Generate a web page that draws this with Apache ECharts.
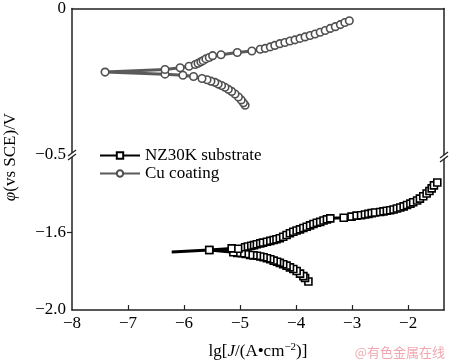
<!DOCTYPE html>
<html>
<head>
<meta charset="utf-8">
<script src="https://cdn.jsdelivr.net/npm/echarts@6/dist/echarts.min.js"></script>
<style>html,body{margin:0;padding:0;background:#fff}#c{width:450px;height:362px}</style>
</head>
<body>
<div id="c"></div>
<script>
// ---- data ----
var seriesNames = ['NZ30K substrate', 'Cu coating'];
var xTickLabels = [-8, -7, -6, -5, -4, -3, -2];
var yTopLabels = [0, -0.5];
var yBottomLabels = [-2.0, -1.6];

// Cu coating: cathodic branch (from its end) -> corrosion point -> anodic branch
var cuLgJ = [-4.91, -4.94, -4.98, -5.03, -5.09, -5.15, -5.21, -5.27, -5.33, -5.39, -5.45, -5.52, -5.59, -5.68, -5.83, -6.02, -6.34,
  -7.41,
  -6.34, -6.07, -5.91, -5.80, -5.75, -5.70, -5.66, -5.61, -5.55, -5.49, -5.34, -5.05, -4.79, -4.64, -4.55, -4.46, -4.38, -4.29, -4.20, -4.11, -4.02, -3.93, -3.84, -3.75, -3.66, -3.57, -3.48, -3.39, -3.30, -3.21, -3.13, -3.05];
var cuPhi = [-0.330, -0.322, -0.312, -0.302, -0.292, -0.283, -0.276, -0.269, -0.263, -0.258, -0.252, -0.248, -0.243, -0.239, -0.232, -0.228, -0.224,
  -0.217,
  -0.208, -0.202, -0.197, -0.191, -0.187, -0.182, -0.178, -0.172, -0.167, -0.161, -0.158, -0.150, -0.145, -0.139, -0.136, -0.131, -0.126, -0.120, -0.116, -0.111, -0.107, -0.102, -0.097, -0.092, -0.087, -0.081, -0.075, -0.068, -0.062, -0.055, -0.048, -0.042];

// NZ30K substrate
var nzLgJ = [-3.78, -3.84, -3.87, -3.93, -3.99, -4.05, -4.11, -4.17, -4.23, -4.29, -4.34, -4.40, -4.46, -4.52, -4.58, -4.64, -4.70, -4.76, -4.82, -4.90, -4.97, -5.05, -5.12, -5.55,
  -6.22,
  -5.55, -5.15, -5.03, -4.91, -4.86, -4.80, -4.75, -4.70, -4.64, -4.59, -4.52, -4.46, -4.40, -4.35, -4.29, -4.23, -4.17, -4.11, -4.05, -3.99, -3.93, -3.87, -3.81, -3.75, -3.69, -3.63, -3.57, -3.51, -3.45, -3.39, -3.15, -3.01, -2.92, -2.84, -2.77, -2.71, -2.65, -2.59, -2.50, -2.44, -2.38, -2.32, -2.26, -2.20, -2.14, -2.08, -2.02, -1.96, -1.91, -1.84, -1.79, -1.73, -1.67, -1.62, -1.58, -1.54, -1.48];
var nzPhi = [-1.853, -1.835, -1.825, -1.812, -1.799, -1.788, -1.780, -1.771, -1.764, -1.757, -1.751, -1.745, -1.738, -1.733, -1.728, -1.724, -1.720, -1.718, -1.716, -1.711, -1.707, -1.705, -1.702, -1.690,
  -1.701,
  -1.690, -1.682, -1.684, -1.676, -1.672, -1.668, -1.665, -1.661, -1.656, -1.652, -1.648, -1.643, -1.639, -1.635, -1.630, -1.622, -1.613, -1.604, -1.596, -1.590, -1.584, -1.577, -1.570, -1.563, -1.556, -1.550, -1.545, -1.538, -1.532, -1.527, -1.524, -1.518, -1.513, -1.511, -1.507, -1.504, -1.500, -1.497, -1.494, -1.491, -1.488, -1.485, -1.481, -1.476, -1.471, -1.465, -1.458, -1.451, -1.444, -1.435, -1.425, -1.413, -1.399, -1.386, -1.372, -1.357, -1.342];
var nzNoSymbolIndex = 24; // line end without marker

// ---- build ----
var FONT = '"Liberation Serif","Times New Roman",serif';
function fmtY(v) { return v === 0 ? '0' : (v < 0 ? '\u2212' : '') + Math.abs(v).toFixed(1); }
function fmtX(v) { return (v < 0 ? '\u2212' : '') + Math.abs(Math.round(v)); }

var cuData = cuLgJ.map(function (x, i) { return [x, cuPhi[i]]; });
var nzData = nzLgJ.map(function (x, i) {
  var d = { value: [x, nzPhi[i]] };
  if (i === nzNoSymbolIndex) d.symbol = 'none';
  return d;
});

var axisLineStyle = { color: '#222', width: 1.5 };
var plainAxis = { axisLine: { show: true, onZero: false, lineStyle: axisLineStyle }, axisTick: { show: false }, axisLabel: { show: false }, splitLine: { show: false } };

var chart = echarts.init(document.getElementById('c'));
chart.setOption({
  animation: false,
  backgroundColor: '#fff',
  grid: [
    { left: 72, right: 6, top: 5, height: 150 },
    { left: 72, right: 6, top: 155, height: 155 }
  ],
  xAxis: [
    Object.assign({ type: 'value', gridIndex: 0, position: 'top', min: -8, max: -1.36 }, plainAxis),
    {
      type: 'value', gridIndex: 1, position: 'bottom', min: -8, max: -1.36,
      axisLine: { show: true, onZero: false, lineStyle: axisLineStyle },
      axisTick: { show: true, inside: true, length: 5, lineStyle: { color: '#222', width: 1.2 }, customValues: xTickLabels.slice(1) },
      axisLabel: { show: true, customValues: xTickLabels, formatter: fmtX, color: '#000', fontFamily: FONT, fontSize: 17, margin: 5 },
      splitLine: { show: false },
      name: 'lg[{i|J}/(A\u2022cm{sup|\u22122})]',
      nameLocation: 'middle', nameGap: 32,
      nameTextStyle: {
        color: '#000', fontFamily: FONT, fontSize: 17,
        rich: {
          i: { fontStyle: 'italic', fontFamily: FONT, fontSize: 17, color: '#000' },
          sup: { fontFamily: FONT, fontSize: 11, color: '#000', verticalAlign: 'top', lineHeight: 20 }
        }
      }
    }
  ],
  yAxis: [
    {
      type: 'value', gridIndex: 0, position: 'left', min: -0.5, max: 0,
      axisLine: { show: true, onZero: false, lineStyle: axisLineStyle },
      axisTick: { show: false },
      axisLabel: { show: true, customValues: yTopLabels, formatter: fmtY, color: '#000', fontFamily: FONT, fontSize: 17, margin: 6 },
      splitLine: { show: false }
    },
    Object.assign({ type: 'value', gridIndex: 0, position: 'right', min: -0.5, max: 0 }, plainAxis),
    {
      type: 'value', gridIndex: 1, position: 'left', min: -2.0, max: -1.2,
      axisLine: { show: true, onZero: false, lineStyle: axisLineStyle },
      axisTick: { show: true, length: 5, lineStyle: { color: '#222', width: 1.2 }, customValues: [-1.6] },
      axisLabel: { show: true, customValues: yBottomLabels, formatter: fmtY, color: '#000', fontFamily: FONT, fontSize: 17, margin: 6 },
      splitLine: { show: false }
    },
    Object.assign({ type: 'value', gridIndex: 1, position: 'right', min: -2.0, max: -1.2 }, plainAxis)
  ],
  legend: {
    data: seriesNames,
    orient: 'vertical',
    left: 94, top: 142,
    itemWidth: 40, itemHeight: 8, itemGap: 1,
    textStyle: { color: '#000', fontFamily: FONT, fontSize: 17 }
  },
  series: [
    {
      name: seriesNames[0], type: 'line', xAxisIndex: 1, yAxisIndex: 2,
      data: nzData,
      symbol: 'rect', symbolSize: 7, showAllSymbol: true,
      lineStyle: { color: '#000', width: 3 },
      itemStyle: { color: '#fff', borderColor: '#000', borderWidth: 1.6 },
      z: 3
    },
    {
      name: seriesNames[1], type: 'line', xAxisIndex: 0, yAxisIndex: 0,
      data: cuData,
      symbol: 'circle', symbolSize: 7.5, showAllSymbol: true,
      lineStyle: { color: '#5a5a5a', width: 3 },
      itemStyle: { color: '#fff', borderColor: '#4f4f4f', borderWidth: 1.6 },
      z: 3
    }
  ],
  graphic: [
    {
      type: 'text', x: 11, y: 157, rotation: Math.PI / 2, z: 100,
      style: {
        text: '{i|\u03c6}(vs SCE)/V', fill: '#000', fontFamily: FONT, fontSize: 17,
        align: 'center', verticalAlign: 'middle',
        rich: { i: { fontStyle: 'italic', fontFamily: FONT, fontSize: 17, fill: '#000' } }
      }
    },
    // axis break marks
    { type: 'rect', z: 100, shape: { x: 68, y: 153, width: 9, height: 4 }, style: { fill: '#fff' } },
    { type: 'line', z: 101, shape: { x1: 68, y1: 156, x2: 76, y2: 150 }, style: { stroke: '#222', lineWidth: 1.3 } },
    { type: 'line', z: 101, shape: { x1: 68, y1: 160, x2: 76, y2: 154 }, style: { stroke: '#222', lineWidth: 1.3 } },
    { type: 'rect', z: 100, shape: { x: 440, y: 155, width: 9, height: 4 }, style: { fill: '#fff' } },
    { type: 'line', z: 101, shape: { x1: 440, y1: 158, x2: 448, y2: 152 }, style: { stroke: '#222', lineWidth: 1.3 } },
    { type: 'line', z: 101, shape: { x1: 440, y1: 162, x2: 448, y2: 156 }, style: { stroke: '#222', lineWidth: 1.3 } },
    {
      type: 'text', right: 5, bottom: 3, z: 100,
      style: { text: '@有色金属在线', fill: '#f0a8b0', fontFamily: '"Noto Sans CJK SC",sans-serif', fontSize: 13 }
    }
  ]
});
</script>
</body>
</html>
